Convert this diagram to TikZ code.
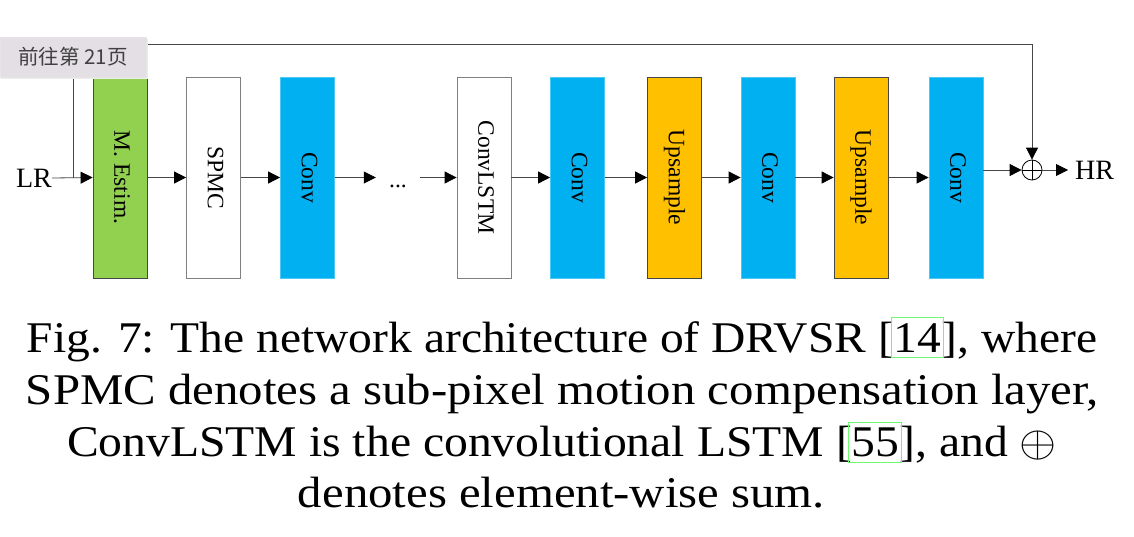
\RequirePackage{fix-cm}
\documentclass[tikz,border=0pt]{standalone}
\usepackage{fontspec}
\setmainfont{Liberation Serif}
\newfontfamily\cjk{Noto Sans CJK SC}
\usetikzlibrary{arrows.meta,calc}
\definecolor{cgreen}{RGB}{146,208,80}
\definecolor{ccyan}{RGB}{0,176,240}
\definecolor{corange}{RGB}{255,192,0}
\definecolor{cline}{RGB}{70,70,70}
\definecolor{clink}{RGB}{110,250,110}
\definecolor{ctip}{RGB}{228,222,229}
\newcommand\laytext[1]{\rotatebox{-90}{\strut #1}}
\tikzset{
  layer/.style={rectangle, minimum width=54pt, minimum height=201pt, inner sep=0pt,
    line width=0.8pt, font=\fontsize{23.5}{28}\selectfont},
  greenbox/.style={layer, fill=cgreen, draw=cline},
  whitebox/.style={layer, fill=white, draw=gray},
  cyanbox/.style={layer, fill=ccyan, draw=ccyan!70!white},
  orangebox/.style={layer, fill=corange, draw=cline},
  conn/.style={draw=cline, line width=0.8pt, -{Triangle[length=12pt,width=12pt,fill=black,color=black]}},
  plain/.style={draw=cline, line width=0.8pt},
  iolabel/.style={font=\fontsize{28}{32}\selectfont, inner sep=0pt},
  capline/.style={font=\fontsize{43.8}{52}\selectfont, inner sep=0pt, anchor=base},
  linkbox/.style={draw=clink, line width=1pt}
}
\begin{document}
\begin{tikzpicture}[x=1pt,y=-1pt]
\useasboundingbox[fill=white] (0,0) rectangle (1134,536);
% layers
\node[greenbox]  (me)   at (120,177.5)   {\laytext{M. Estim.}};
\node[whitebox]  (spmc) at (213.5,177.5) {\laytext{SPMC}};
\node[cyanbox]   (c1)   at (307.5,177.5) {\laytext{Conv}};
\node[font=\fontsize{23.5}{28}\selectfont, inner sep=0pt, minimum width=44pt, anchor=base] (dots) at (398,187) {...};
\node[whitebox]  (lstm) at (484,177.5)   {\laytext{ConvLSTM}};
\node[cyanbox]   (c2)   at (577.5,177.5) {\laytext{Conv}};
\node[orangebox] (u1)   at (674.5,177.5) {\laytext{Upsample}};
\node[cyanbox]   (c3)   at (768,177.5)   {\laytext{Conv}};
\node[orangebox] (u2)   at (861,177.5)   {\laytext{Upsample}};
\node[cyanbox]   (c4)   at (956,177.5)   {\laytext{Conv}};
% sum
\node[circle, draw=black, line width=0.8pt, minimum size=20pt, inner sep=0pt] (sum) at (1032,170) {};
\draw[line width=0.8pt] (sum.north) -- (sum.south) (sum.west) -- (sum.east);
% io
\node[iolabel, anchor=east] (lr) at (52,178) {LR};
\node[iolabel, anchor=west] (hr) at (1075,170) {HR};
\coordinate (j) at (73,178);
\coordinate (tr) at (1032,44);
% connectors
\draw[conn] (lr.east) -- (me.west);
\draw[plain] (j) |- (tr);
\draw[conn] (tr) -- (sum.north);
\draw[conn] (me) -- (spmc);
\draw[conn] (spmc) -- (c1);
\draw[conn] (c1.east) -- (c1.east -| dots.west);
\draw[conn] (lstm.west -| dots.east) -- (lstm.west);
\draw[conn] (lstm) -- (c2);
\draw[conn] (c2) -- (u1);
\draw[conn] (u1) -- (c3);
\draw[conn] (c3) -- (u2);
\draw[conn] (u2) -- (c4);
\draw[conn] (c4.east |- sum) -- (sum.west);
\draw[conn] (sum.east) -- ($(hr.west)+(-7,0)$);
% caption
\node[capline] (cap1) at (562,352) {\resizebox{1070pt}{\height}{Fig. 7: The network architecture of DRVSR [14], where}};
\node[capline] (cap2) at (562.5,404) {\resizebox{1073pt}{\height}{SPMC denotes a sub-pixel motion compensation layer,}};
\node[capline] (cap3) at (562,456) {\resizebox{990pt}{\height}{ConvLSTM is the convolutional LSTM [55], and $\oplus$}};
\node[capline] (cap4) at (561.5,507) {\resizebox{527pt}{\height}{denotes element-wise sum.}};
\draw[linkbox] (891,317) rectangle (943,357);
\draw[linkbox] (848,422) rectangle (901,462);
% tooltip overlay
\fill[black!8] (1,39) rectangle (148,79);
\node[fill=ctip, draw=black!10, line width=0.5pt, minimum width=146pt, minimum height=40pt, inner sep=0pt,
  text=black!75, font=\cjk\fontsize{20.5}{22}\selectfont] (tip) at (73,57) {前往第 21页};
\end{tikzpicture}
\end{document}
